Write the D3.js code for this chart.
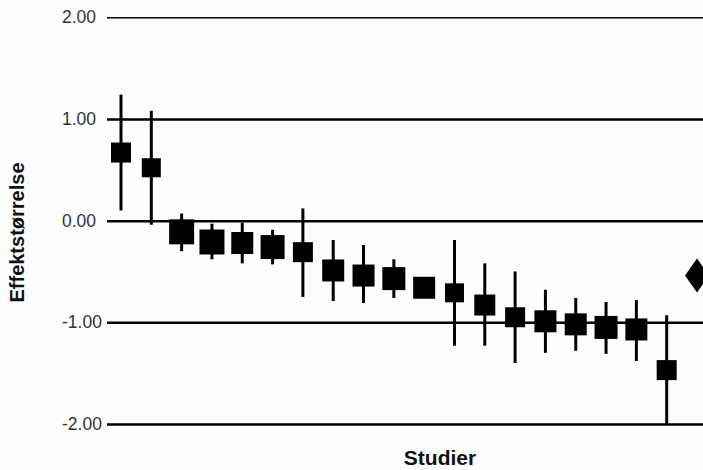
<!DOCTYPE html>
<html>
<head>
<meta charset="utf-8">
<script src="https://cdn.jsdelivr.net/npm/d3@7"></script>
<style>
  body { margin: 0; background: #fdfdfd; }
  svg { display: block; font-family: Arial, "Liberation Sans", sans-serif; }
</style>
</head>
<body>
<script>
// chart size
var W = 703;
var H = 470;

// studies (1..19) and pooled estimate
var studier = d3.range(1, 20);
var effekt = [0.67, 0.52, -0.11, -0.21, -0.22, -0.26, -0.31, -0.49, -0.54, -0.57,
              -0.66, -0.71, -0.83, -0.95, -0.99, -1.02, -1.05, -1.07, -1.47];
var ciHigh = [1.24, 1.08, 0.07, -0.03, -0.02, -0.09, 0.12, -0.19, -0.24, -0.38,
              -0.60, -0.19, -0.42, -0.50, -0.68, -0.76, -0.80, -0.78, -0.93];
var ciLow  = [0.10, -0.04, -0.30, -0.38, -0.42, -0.43, -0.75, -0.79, -0.81, -0.76,
              -0.72, -1.23, -1.23, -1.40, -1.30, -1.28, -1.31, -1.38, -2.00];
var vekt   = [20, 19, 25, 25, 22, 24, 20, 22, 22, 23, 22, 19, 21, 20, 22, 22, 23, 22, 20];
var samlet = { index: 20, value: -0.54 };
var yTicks = [2, 1, 0, -1, -2];

function main() {
  var svg = d3.select("body").append("svg")
    .attr("width", W)
    .attr("height", H);

  var x = d3.scaleLinear().domain([1, 20]).range([121, 697]);
  var y = d3.scaleLinear().domain([-2, 2]).range([424, 17.3]);
  var size = d3.scaleLinear().domain([0, 25]).range([0, 25]);

  // horizontal lines
  var grid = svg.append("g")
    .attr("transform", "translate(107,0)")
    .call(d3.axisRight(y).tickValues(yTicks).tickSize(W - 107).tickFormat(""));
  grid.select(".domain").remove();
  grid.selectAll(".tick line")
    .attr("stroke", "#000")
    .attr("stroke-width", function(d) { return d == 2 ? 1.5 : 2.5; });

  // tick labels, left aligned
  var labels = svg.append("g")
    .attr("transform", "translate(62,0)")
    .call(d3.axisRight(y).tickValues(yTicks).tickSize(0).tickPadding(0)
      .tickFormat(function(d) { return d.toFixed(2); }));
  labels.select(".domain").remove();
  labels.selectAll("text")
    .attr("x", 0)
    .attr("text-anchor", "start")
    .attr("font-size", "17.5px")
    .attr("font-family", "Arial, 'Liberation Sans', sans-serif")
    .attr("fill", "#333");

  // confidence intervals
  svg.selectAll(".ci")
    .data(studier)
    .enter()
    .append("line")
    .attr("class", "ci")
    .attr("x1", function(d) { return x(d); })
    .attr("x2", function(d) { return x(d); })
    .attr("y1", function(d, i) { return y(ciHigh[i]); })
    .attr("y2", function(d, i) { return y(ciLow[i]); })
    .attr("stroke", "#000")
    .attr("stroke-width", 3);

  // squares
  svg.selectAll(".sq")
    .data(studier)
    .enter()
    .append("rect")
    .attr("class", "sq")
    .attr("x", function(d, i) { return x(d) - size(vekt[i]) / 2; })
    .attr("y", function(d, i) { return y(effekt[i]) - size(vekt[i]) / 2; })
    .attr("width", function(d, i) { return size(vekt[i]); })
    .attr("height", function(d, i) { return size(vekt[i]); })
    .attr("fill", "#000");

  // pooled diamond
  var cx = x(samlet.index);
  var cy = y(samlet.value);
  svg.append("path")
    .attr("d", "M" + (cx - 12) + "," + cy + "L" + cx + "," + (cy - 17) +
      "L" + (cx + 12) + "," + cy + "L" + cx + "," + (cy + 17) + "Z")
    .attr("fill", "#000");

  // axis titles
  svg.append("text")
    .attr("transform", "translate(24,232.5) rotate(-90)")
    .attr("text-anchor", "middle")
    .attr("font-size", "20px")
    .attr("font-weight", "bold")
    .attr("fill", "#111")
    .text("Effektstørrelse");

  svg.append("text")
    .attr("x", 440)
    .attr("y", 465)
    .attr("text-anchor", "middle")
    .attr("font-size", "21px")
    .attr("font-weight", "bold")
    .attr("fill", "#111")
    .text("Studier");
}

main();
</script>
</body>
</html>
